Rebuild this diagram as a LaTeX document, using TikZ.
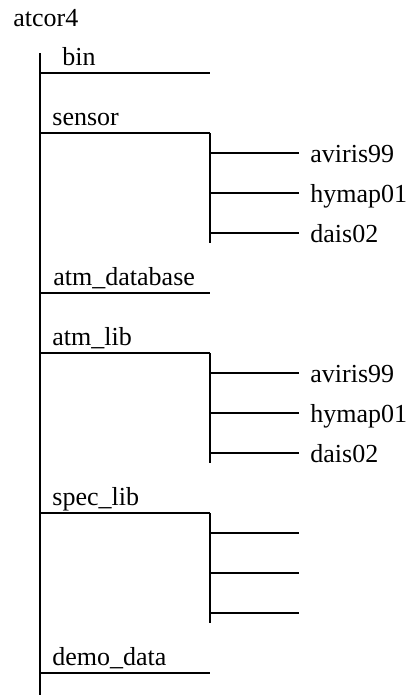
\documentclass[tikz,border=0pt]{standalone}
\usepackage{fontspec}
\setmainfont{Liberation Serif}

\tikzset{
  dirline/.style={draw, line width=0.6pt},
  dirname/.style={anchor=base west, inner sep=0pt, font=\fontsize{13}{15}\selectfont}
}

\begin{document}
\begin{tikzpicture}[x=0.5pt, y=-0.5pt]
  \useasboundingbox (0,0) rectangle (410,697);
  \node[dirname] (root) at (13,26) {atcor4};
  \coordinate (top) at (40,53);
  \coordinate (bot) at (40,695);
  \draw[dirline] (top) -- (bot);

  % first level
  \foreach \id/\txt/\y/\x in {bin/bin/73/62, sensor/sensor/133/52,
      atmdb/atm\_database/293/53, atmlib/atm\_lib/353/52,
      speclib/spec\_lib/513/52, demo/demo\_data/673/52} {
    \node[dirname] (\id) at (\x,\y-8) {\txt};
    \coordinate (\id-l) at (40,\y);
    \coordinate (\id-r) at (210,\y);
    \draw[dirline] (\id-l) -- (\id-r);
  }

  % second level
  \foreach \id/\y in {sensor/133, atmlib/353, speclib/513} {
    \coordinate (\id-b) at (210,\y+110);
    \draw[dirline] (\id-r) -- (\id-b);
    \foreach \k in {1,2,3} {
      \coordinate (\id-s\k) at (210,\y+40*\k-20);
      \coordinate (\id-e\k) at (299,\y+40*\k-20);
      \draw[dirline] (\id-s\k) -- (\id-e\k);
    }
  }
  \foreach \id/\y in {sensor/133, atmlib/353}
    \foreach \lbl [count=\k] in {aviris99, hymap01, dais02}
      \node[dirname] (\id-\lbl) at (310,\y+40*\k-11) {\lbl};
\end{tikzpicture}
\end{document}
